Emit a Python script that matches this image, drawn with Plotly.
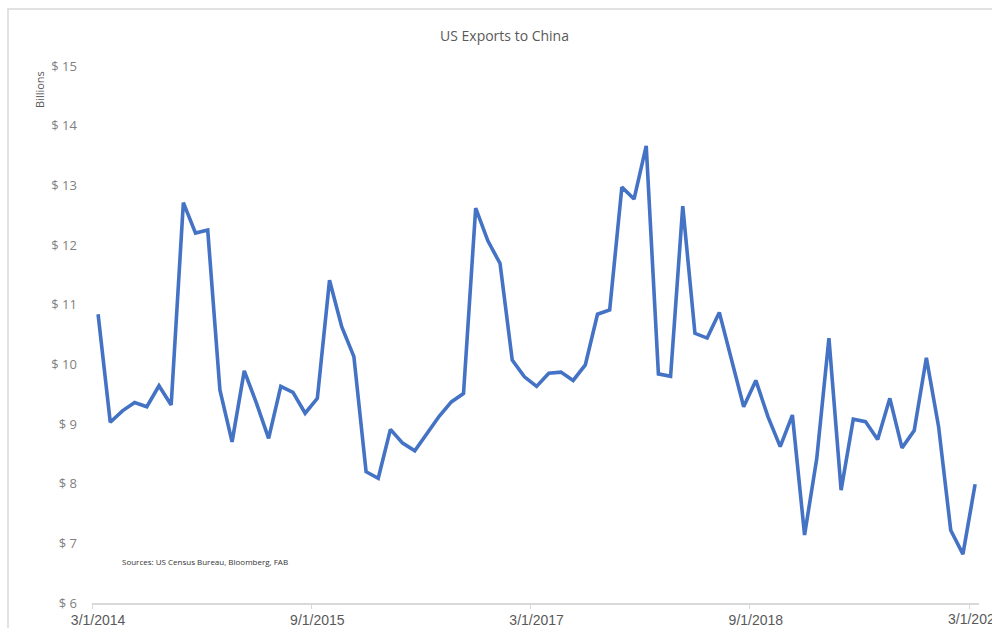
import pandas as pd
import plotly.graph_objects as go

months = pd.date_range("2014-03-01", "2020-03-01", freq="MS")
exports_bn = [
    10.84, 9.03, 9.22, 9.36, 9.29, 9.64, 9.32, 12.71, 12.20, 12.25,
    9.57, 8.70, 9.89, 9.35, 8.76, 9.63, 9.53, 9.18, 9.43, 11.41,
    10.63, 10.13, 8.20, 8.09, 8.91, 8.68, 8.55, 8.84, 9.13, 9.37,
    9.51, 12.62, 12.07, 11.69, 10.07, 9.79, 9.63, 9.85, 9.87, 9.73,
    9.99, 10.84, 10.91, 12.97, 12.77, 13.66, 9.84, 9.80, 12.65, 10.52,
    10.44, 10.87, 10.10, 9.29, 9.73, 9.12, 8.62, 9.15, 7.14, 8.42,
    10.44, 7.89, 9.08, 9.04, 8.74, 9.43, 8.60, 8.89, 10.11, 8.96,
    7.22, 6.82, 7.99,
]
tick_every = 18
y_ticks = [6, 7, 8, 9, 10, 11, 12, 13, 14, 15]
y_tick_labels = [f"$ {v}" for v in y_ticks]

idx = list(range(len(exports_bn)))
label_idx = idx[::tick_every]
label_txt = [f"{d.month}/{d.day}/{d.year}" for d in months[::tick_every]]
boundary_ticks = [i - 0.5 for i in label_idx]

fig = go.Figure()
fig.add_trace(go.Scatter(
    x=idx, y=exports_bn, mode="lines",
    line=dict(color="#4472C4", width=3.6),
    hoverinfo="skip", showlegend=False,
))

W, H = 992, 628
L, R, T, B = 92, 13, 66, 25
pw, ph = W - L - R, H - T - B

def px(xp):
    return (xp - L) / pw

def py(yp):
    return (H - B - yp) / ph

xfont = dict(family="Liberation Sans, Arial", size=14, color="#595959")

fig.update_layout(
    width=W, height=H,
    margin=dict(l=L, r=R, t=T, b=B, autoexpand=False),
    paper_bgcolor="white", plot_bgcolor="white",
    showlegend=False,
    xaxis=dict(
        range=[-0.5, 72.32], showgrid=False, zeroline=False,
        showline=True, linecolor="#d9d9d9", linewidth=1.5,
        tickmode="array", tickvals=label_idx[:-1], ticktext=label_txt[:-1],
        ticks="", ticklabelstandoff=3,
        tickfont=xfont,
        minor=dict(tickmode="array", tickvals=boundary_ticks, ticks="outside",
                   ticklen=4, tickcolor="#d9d9d9", tickwidth=1),
        automargin=False, fixedrange=True,
    ),
    yaxis=dict(
        range=[6, 15], showgrid=False, zeroline=False, showline=False,
        tickmode="array", tickvals=y_ticks, ticktext=y_tick_labels,
        ticks="", ticklabelstandoff=14,
        tickfont=dict(family="Open Sans, Calibri, sans-serif", size=13, color="#7f7f7f"),
        automargin=False, fixedrange=True,
    ),
    shapes=[dict(
        type="rect", xref="paper", yref="paper",
        x0=px(8), x1=px(1010), y0=py(660), y1=py(9),
        line=dict(color="#d9d9d9", width=1.5), fillcolor="rgba(0,0,0,0)", layer="below",
    )],
    annotations=[
        dict(text="US Exports to China", xref="paper", yref="paper",
             x=px(504), y=py(35), xanchor="center", yanchor="middle", showarrow=False,
             font=dict(family="Open Sans, Calibri, sans-serif", size=14, color="#595959")),
        dict(text="Billions", xref="paper", yref="paper", textangle=-90,
             x=px(40), y=py(90), xanchor="center", yanchor="middle", showarrow=False,
             font=dict(family="Open Sans, Calibri, sans-serif", size=11, color="#595959")),
        dict(text="Sources: US Census Bureau, Bloomberg, FAB", xref="paper", yref="paper",
             x=px(120), y=py(561), xanchor="left", yanchor="middle", showarrow=False,
             font=dict(family="Open Sans, Calibri, sans-serif", size=8, color="#333333")),
        dict(text=label_txt[-1], xref="x", yref="paper",
             x=label_idx[-1], y=py(619), xanchor="center", yanchor="middle",
             showarrow=False, font=xfont),
    ],
)

fig.write_html(
    "out.html",
    config={"displayModeBar": False},
    post_script="document.body.style.margin='0';document.body.style.overflow='hidden';",
)
